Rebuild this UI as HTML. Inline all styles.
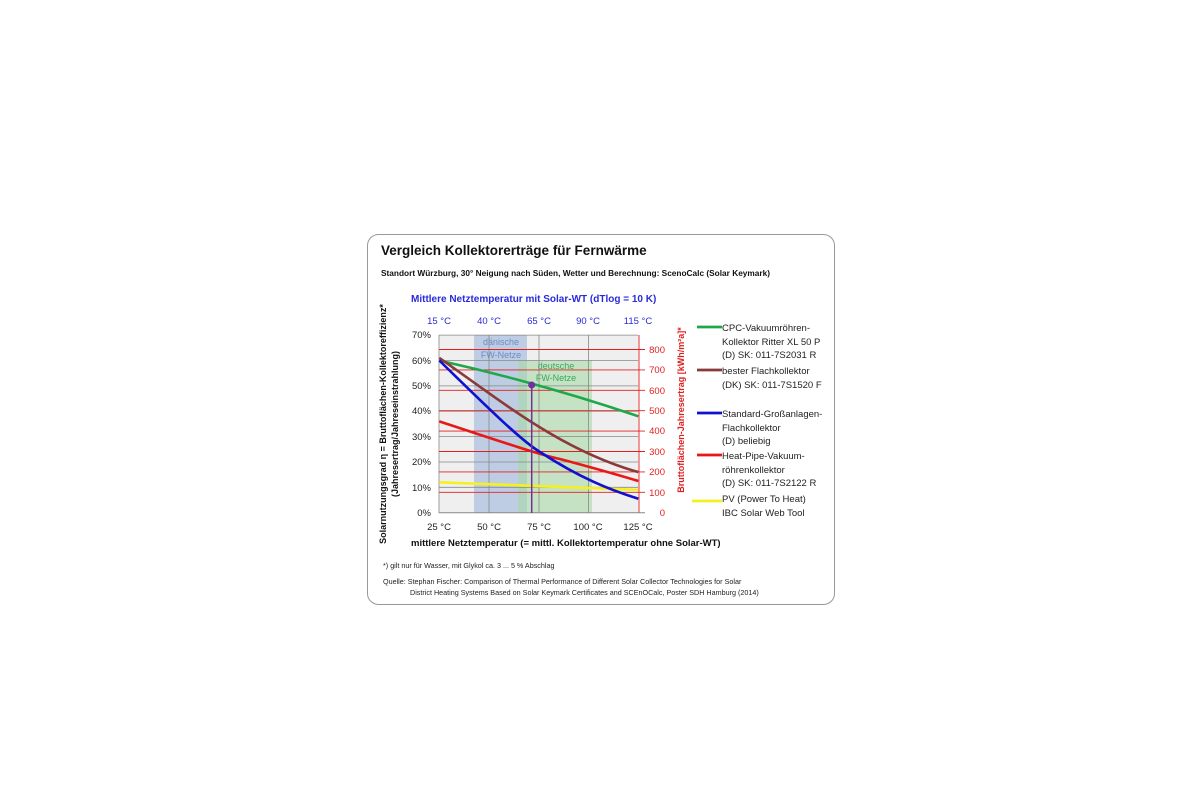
<!DOCTYPE html>
<html><head><meta charset="utf-8"><style>
body{margin:0;background:#fff;width:1200px;height:800px;overflow:hidden}
svg{font-family:"Liberation Sans",sans-serif}
</style></head><body>
<svg width="1200" height="800" xmlns="http://www.w3.org/2000/svg">
<rect x="367.5" y="234.5" width="467" height="370" rx="11" fill="#fff" stroke="#999" stroke-width="1"/>
<text x="381" y="255" font-size="13.5" font-weight="bold" fill="#111">Vergleich Kollektorerträge für Fernwärme</text>
<text x="381" y="276" font-size="8.3" font-weight="bold" fill="#111">Standort Würzburg, 30° Neigung nach Süden, Wetter und Berechnung: ScenoCalc (Solar Keymark)</text>
<text x="411" y="302" font-size="10" font-weight="bold" fill="#2a2ad8">Mittlere Netztemperatur mit Solar-WT (dTlog = 10 K)</text>
<g font-size="9.5" fill="#2a2ad8" text-anchor="middle">
<text x="439" y="324">15 °C</text><text x="489" y="324">40 °C</text><text x="539" y="324">65 °C</text><text x="588" y="324">90 °C</text><text x="638" y="324">115 °C</text></g>
<rect x="439.3" y="335" width="199" height="177.7" fill="#efefef"/>
<rect x="474" y="335" width="53" height="177.7" fill="#a9bfe0" opacity="0.7"/>
<rect x="518" y="360" width="74" height="152.7" fill="#a8d8a8" opacity="0.6"/>
<text x="501" y="345" font-size="9" fill="#6a8cc8" text-anchor="middle">dänische</text>
<text x="501" y="358" font-size="9" fill="#6a8cc8" text-anchor="middle">FW-Netze</text>
<text x="556" y="369" font-size="9" fill="#3aa85a" text-anchor="middle">deutsche</text>
<text x="556" y="381" font-size="9" fill="#3aa85a" text-anchor="middle">FW-Netze</text>
<g stroke="#888" stroke-width="0.8">
<line x1="439" y1="487.3" x2="638" y2="487.3"/><line x1="439" y1="462" x2="638" y2="462"/><line x1="439" y1="436.6" x2="638" y2="436.6"/><line x1="439" y1="411.2" x2="638" y2="411.2"/><line x1="439" y1="385.9" x2="638" y2="385.9"/><line x1="439" y1="360.5" x2="638" y2="360.5"/><line x1="439" y1="335.1" x2="638" y2="335.1"/>
<line x1="489" y1="335" x2="489" y2="513"/><line x1="539" y1="335" x2="539" y2="513"/><line x1="588.5" y1="335" x2="588.5" y2="513"/>
<line x1="439" y1="335" x2="439" y2="513"/>
</g>
<g stroke="#e02020" stroke-width="0.9">
<line x1="439" y1="492.3" x2="645" y2="492.3"/><line x1="439" y1="471.9" x2="645" y2="471.9"/><line x1="439" y1="451.5" x2="645" y2="451.5"/><line x1="439" y1="431.1" x2="645" y2="431.1"/><line x1="439" y1="410.7" x2="645" y2="410.7"/><line x1="439" y1="390.3" x2="645" y2="390.3"/><line x1="439" y1="369.9" x2="645" y2="369.9"/><line x1="439" y1="349.5" x2="645" y2="349.5"/>
<line x1="639" y1="335" x2="639" y2="513"/>
</g>
<line x1="439" y1="512.7" x2="645" y2="512.7" stroke="#888"/>
<g fill="none" stroke-width="2.6">
<path d="M439.3,482.3 Q539,486 638.3,489.9" stroke="#f5f020"/>
<path d="M439.3,421.4 C490,438 540,455 560,459 C590,467 615,474 638.3,481" stroke="#e81818"/>
<path d="M439.3,360.5 Q540,383 638.3,416.3" stroke="#1fa84a"/>
<path d="M439.3,357.9 C500,400 560,450 638.3,472.1" stroke="#8b3a3a"/>
<path d="M439.3,360.5 C480,400 520,440 540,452 C580,478 610,490 638.3,498.7" stroke="#1010d0"/>
</g>
<line x1="531.7" y1="385" x2="531.7" y2="513" stroke="#7030a0" stroke-width="1.5"/>
<circle cx="531.7" cy="385" r="3.5" fill="#7030a0"/>
<g font-size="9.5" fill="#222" text-anchor="end">
<text x="431" y="516">0%</text><text x="431" y="491">10%</text><text x="431" y="465">20%</text><text x="431" y="440">30%</text><text x="431" y="414">40%</text><text x="431" y="389">50%</text><text x="431" y="364">60%</text><text x="431" y="338">70%</text></g>
<g font-size="9.5" fill="#e02020" text-anchor="end">
<text x="665" y="516">0</text><text x="665" y="496">100</text><text x="665" y="475">200</text><text x="665" y="455">300</text><text x="665" y="434">400</text><text x="665" y="414">500</text><text x="665" y="394">600</text><text x="665" y="373">700</text><text x="665" y="353">800</text></g>
<g font-size="9.5" fill="#222" text-anchor="middle">
<text x="439" y="530">25 °C</text><text x="489" y="530">50 °C</text><text x="539" y="530">75 °C</text><text x="588" y="530">100 °C</text><text x="638" y="530">125 °C</text></g>
<text x="411" y="546" font-size="9.5" font-weight="bold" fill="#111">mittlere Netztemperatur (= mittl. Kollektortemperatur ohne Solar-WT)</text>
<text transform="translate(386,424) rotate(-90)" font-size="9" font-weight="bold" fill="#111" text-anchor="middle">Solarnutzungsgrad η = Bruttoflächen-Kollektoreffizienz*</text>
<text transform="translate(398,424) rotate(-90)" font-size="9" font-weight="bold" fill="#111" text-anchor="middle">(Jahresertrag/Jahreseinstrahlung)</text>
<text transform="translate(684,410) rotate(-90)" font-size="9" font-weight="bold" fill="#e02020" text-anchor="middle">Bruttoflächen-Jahresertrag [kWh/m²a]*</text>
<g stroke-width="2.8">
<line x1="697" y1="327" x2="722" y2="327" stroke="#1fa84a"/>
<line x1="697" y1="370" x2="722" y2="370" stroke="#8b3a3a"/>
<line x1="697" y1="413" x2="722" y2="413" stroke="#1010d0"/>
<line x1="697" y1="455" x2="722" y2="455" stroke="#e81818"/>
<line x1="692" y1="501" x2="722" y2="501" stroke="#f5f020"/>
</g>
<g font-size="9.5" fill="#222">
<text x="722" y="331">CPC-Vakuumröhren-</text><text x="722" y="345">Kollektor Ritter XL 50 P</text><text x="722" y="358">(D) SK: 011-7S2031 R</text>
<text x="722" y="374">bester Flachkollektor</text><text x="722" y="388">(DK) SK: 011-7S1520 F</text>
<text x="722" y="417">Standard-Großanlagen-</text><text x="722" y="431">Flachkollektor</text><text x="722" y="444">(D) beliebig</text>
<text x="722" y="459">Heat-Pipe-Vakuum-</text><text x="722" y="473">röhrenkollektor</text><text x="722" y="486">(D) SK: 011-7S2122 R</text>
<text x="722" y="502">PV (Power To Heat)</text><text x="722" y="516">IBC Solar Web Tool</text></g>
<text x="383" y="568" font-size="7.2" fill="#222">*) gilt nur für Wasser, mit Glykol ca. 3 ... 5 % Abschlag</text>
<text x="383" y="584" font-size="7.2" fill="#222">Quelle: Stephan Fischer: Comparison of Thermal Performance of Different Solar Collector Technologies  for Solar</text>
<text x="410" y="595" font-size="7.2" fill="#222">District Heating Systems Based on Solar Keymark Certificates and SCEnOCalc, Poster SDH Hamburg (2014)</text>
</svg>
</body></html>
